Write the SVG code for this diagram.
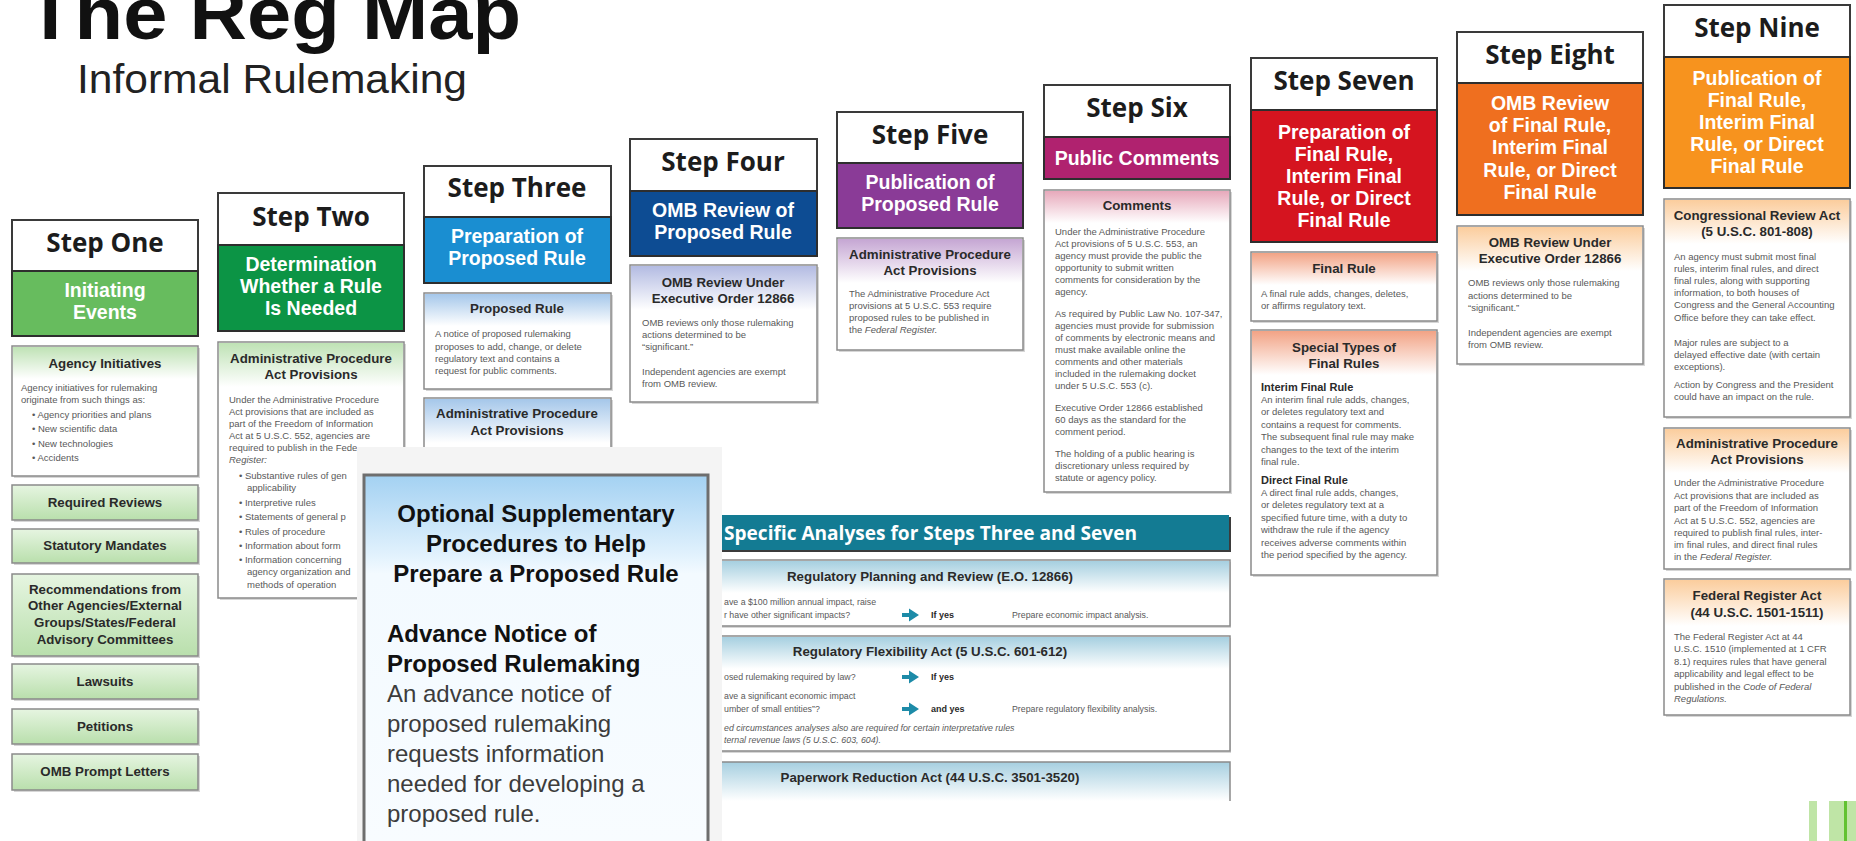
<svg xmlns="http://www.w3.org/2000/svg" width="1856" height="841" viewBox="0 0 1856 841">
<defs>
<style>
.hb{fill:#fff;stroke:#3a3a3a;stroke-width:2}
.pn{stroke:#2e2e2e;stroke-width:2}
.st{font-family:'Open Sans','DejaVu Sans',sans-serif;font-weight:700;font-size:26px;fill:#1c1c1c;text-anchor:middle}
.pt{font-family:'Liberation Sans',Arial,sans-serif;font-weight:700;font-size:19.5px;fill:#fff;text-anchor:middle}
.sb{fill:#fff;stroke:#8a8a8a;stroke-width:1.5}
.btn{fill:url(#gBtn)}
.shd{fill:#d6d6d6}
.bt{font-family:'Liberation Sans',Arial,sans-serif;font-weight:700;font-size:13.3px;fill:#2a2a2a;text-anchor:middle}
.bs{font-family:'Liberation Sans',Arial,sans-serif;font-weight:700;font-size:11px;fill:#2a2a2a}
.bd{font-family:'Liberation Sans',Arial,sans-serif;font-size:9.5px;fill:#595959}
.sd{font-family:'Liberation Sans',Arial,sans-serif;font-size:8.8px;fill:#595959}
.sy{font-family:'Liberation Sans',Arial,sans-serif;font-weight:700;font-size:9px;fill:#2a2a2a}
.it{font-style:italic}
.ov1{font-family:'Liberation Sans',Arial,sans-serif;font-weight:700;font-size:24px;fill:#111}
.ov2{font-family:'Liberation Sans',Arial,sans-serif;font-size:24px;fill:#3c3c3c}
.arr{fill:#1d8ba8}
</style>
<linearGradient id="gG" x1="0" y1="0" x2="0" y2="1"><stop offset="0" stop-color="#bfe2b5"/><stop offset="1" stop-color="#fff"/></linearGradient>
<linearGradient id="gBtn" x1="0" y1="0" x2="0" y2="1"><stop offset="0" stop-color="#e6f5e1"/><stop offset="1" stop-color="#b9dfac"/></linearGradient>
<linearGradient id="gB" x1="0" y1="0" x2="0" y2="1"><stop offset="0" stop-color="#a5c7ea"/><stop offset="1" stop-color="#fff"/></linearGradient>
<linearGradient id="gL" x1="0" y1="0" x2="0" y2="1"><stop offset="0" stop-color="#b3bbe2"/><stop offset="1" stop-color="#fff"/></linearGradient>
<linearGradient id="gP" x1="0" y1="0" x2="0" y2="1"><stop offset="0" stop-color="#c5a6d3"/><stop offset="1" stop-color="#fff"/></linearGradient>
<linearGradient id="gK" x1="0" y1="0" x2="0" y2="1"><stop offset="0" stop-color="#e7a9bb"/><stop offset="1" stop-color="#fff"/></linearGradient>
<linearGradient id="gR" x1="0" y1="0" x2="0" y2="1"><stop offset="0" stop-color="#f2a385"/><stop offset="1" stop-color="#fff"/></linearGradient>
<linearGradient id="gO" x1="0" y1="0" x2="0" y2="1"><stop offset="0" stop-color="#fbcd9d"/><stop offset="1" stop-color="#fff"/></linearGradient>
<linearGradient id="gT" x1="0" y1="0" x2="0" y2="1"><stop offset="0" stop-color="#a6cfe0"/><stop offset="1" stop-color="#fff"/></linearGradient>
<linearGradient id="gOv" gradientUnits="userSpaceOnUse" x1="0" y1="475" x2="0" y2="841"><stop offset="0" stop-color="#a3d1f2"/><stop offset="0.22" stop-color="#e2f2fd"/><stop offset="0.27" stop-color="#f3faff"/><stop offset="1" stop-color="#f8fcff"/></linearGradient>
<path id="ar" d="M0,-2 h7 v-4.5 l10,6.5 l-10,6.5 v-4.5 h-7 z"/>
</defs>
<rect width="1856" height="841" fill="#fff"/>

<g id="title">
<text x="26" y="39" font-family="'Liberation Sans',Arial,sans-serif" font-weight="700" font-size="74" fill="#111" textLength="495" lengthAdjust="spacingAndGlyphs">The Reg Map</text>
<text x="77" y="93" font-family="'Liberation Sans',Arial,sans-serif" font-size="40" fill="#222" textLength="390" lengthAdjust="spacingAndGlyphs">Informal Rulemaking</text>
</g>

<!-- STEP ONE -->
<g id="step1">
<rect class="hb" x="12" y="220" width="186" height="51"/>
<text class="st" x="105" y="252">Step One</text>
<rect class="pn" x="12" y="271" width="186" height="65" fill="#67bc5e"/>
<text class="pt" x="105" y="297">Initiating</text>
<text class="pt" x="105" y="319">Events</text>
</g>
<g id="s1-agency">
<rect class="shd" x="14" y="348" width="186" height="130"/>
<rect class="sb" x="12" y="346" width="186" height="130"/>
<rect x="13" y="347" width="184" height="32" fill="url(#gG)"/>
<text class="bt" x="105" y="368">Agency Initiatives</text>
<text class="bd" x="21" y="391">Agency initiatives for rulemaking</text>
<text class="bd" x="21" y="403">originate from such things as:</text>
<text class="bd" x="32" y="418">• Agency priorities and plans</text>
<text class="bd" x="32" y="432">• New scientific data</text>
<text class="bd" x="32" y="447">• New technologies</text>
<text class="bd" x="32" y="461">• Accidents</text>
</g>
<g id="s1-reviews"><rect class="shd" x="14" y="487" width="186" height="35"/><rect class="sb btn" x="12" y="485" width="186" height="35"/><text class="bt" x="105" y="507">Required Reviews</text></g>
<g id="s1-mandates"><rect class="shd" x="14" y="531" width="186" height="34"/><rect class="sb btn" x="12" y="529" width="186" height="34"/><text class="bt" x="105" y="550">Statutory Mandates</text></g>
<g id="s1-recommend"><rect class="shd" x="14" y="576" width="186" height="82"/><rect class="sb btn" x="12" y="574" width="186" height="82"/>
<text class="bt" x="105" y="594">Recommendations from</text>
<text class="bt" x="105" y="610">Other Agencies/External</text>
<text class="bt" x="105" y="627">Groups/States/Federal</text>
<text class="bt" x="105" y="644">Advisory Committees</text></g>
<g id="s1-lawsuits"><rect class="shd" x="14" y="666" width="186" height="35"/><rect class="sb btn" x="12" y="664" width="186" height="35"/><text class="bt" x="105" y="686">Lawsuits</text></g>
<g id="s1-petitions"><rect class="shd" x="14" y="711" width="186" height="35"/><rect class="sb btn" x="12" y="709" width="186" height="35"/><text class="bt" x="105" y="731">Petitions</text></g>
<g id="s1-prompt"><rect class="shd" x="14" y="756" width="186" height="36"/><rect class="sb btn" x="12" y="754" width="186" height="36"/><text class="bt" x="105" y="776">OMB Prompt Letters</text></g>

<!-- STEP TWO -->
<g id="step2">
<rect class="hb" x="218" y="193" width="186" height="52"/>
<text class="st" x="311" y="226">Step Two</text>
<rect class="pn" x="218" y="245" width="186" height="86" fill="#0c9445"/>
<text class="pt" x="311" y="271">Determination</text>
<text class="pt" x="311" y="293">Whether a Rule</text>
<text class="pt" x="311" y="315">Is Needed</text>
</g>
<g id="s2-apa">
<rect class="shd" x="220" y="344" width="186" height="256"/>
<rect class="sb" x="218" y="342" width="186" height="256"/>
<rect x="219" y="343" width="184" height="44" fill="url(#gG)"/>
<text class="bt" x="311" y="363">Administrative Procedure</text>
<text class="bt" x="311" y="379">Act Provisions</text>
<text class="bd" x="229" y="403">Under the Administrative Procedure</text>
<text class="bd" x="229" y="415">Act provisions that are included as</text>
<text class="bd" x="229" y="427">part of the Freedom of Information</text>
<text class="bd" x="229" y="439">Act at 5 U.S.C. 552, agencies are</text>
<text class="bd" x="229" y="451">required to publish in the Fede</text>
<text class="bd it" x="229" y="463">Register:</text>
<text class="bd" x="239" y="479">• Substantive rules of gen</text>
<text class="bd" x="247" y="491">applicability</text>
<text class="bd" x="239" y="506">• Interpretive rules</text>
<text class="bd" x="239" y="520">• Statements of general p</text>
<text class="bd" x="239" y="535">• Rules of procedure</text>
<text class="bd" x="239" y="549">• Information about form</text>
<text class="bd" x="239" y="563">• Information concerning</text>
<text class="bd" x="247" y="575">agency organization and</text>
<text class="bd" x="247" y="588">methods of operation</text>
</g>

<!-- STEP THREE -->
<g id="step3">
<rect class="hb" x="424" y="166" width="187" height="51"/>
<text class="st" x="517" y="197">Step Three</text>
<rect class="pn" x="424" y="217" width="187" height="66" fill="#1a8ed1"/>
<text class="pt" x="517" y="243">Preparation of</text>
<text class="pt" x="517" y="265">Proposed Rule</text>
</g>
<g id="s3-proposed">
<rect class="shd" x="426" y="295" width="187" height="96"/>
<rect class="sb" x="424" y="293" width="187" height="96"/>
<rect x="425" y="294" width="185" height="32" fill="url(#gB)"/>
<text class="bt" x="517" y="313">Proposed Rule</text>
<text class="bd" x="435" y="337">A notice of proposed rulemaking</text>
<text class="bd" x="435" y="350">proposes to add, change, or delete</text>
<text class="bd" x="435" y="362">regulatory text and contains a</text>
<text class="bd" x="435" y="374">request for public comments.</text>
</g>
<g id="s3-apa">
<rect class="shd" x="426" y="400" width="187" height="80"/>
<rect class="sb" x="424" y="398" width="187" height="80"/>
<rect x="425" y="399" width="185" height="44" fill="url(#gB)"/>
<text class="bt" x="517" y="418">Administrative Procedure</text>
<text class="bt" x="517" y="435">Act Provisions</text>
</g>

<!-- STEP FOUR -->
<g id="step4">
<rect class="hb" x="630" y="139" width="187" height="52"/>
<text class="st" x="723" y="171">Step Four</text>
<rect class="pn" x="630" y="191" width="187" height="65" fill="#0d4c93"/>
<text class="pt" x="723" y="217">OMB Review of</text>
<text class="pt" x="723" y="239">Proposed Rule</text>
</g>
<g id="s4-omb">
<rect class="shd" x="632" y="267" width="187" height="137"/>
<rect class="sb" x="630" y="265" width="187" height="137"/>
<rect x="631" y="266" width="185" height="44" fill="url(#gL)"/>
<text class="bt" x="723" y="287">OMB Review Under</text>
<text class="bt" x="723" y="303">Executive Order 12866</text>
<text class="bd" x="642" y="326">OMB reviews only those rulemaking</text>
<text class="bd" x="642" y="338">actions determined to be</text>
<text class="bd" x="642" y="350">“significant.”</text>
<text class="bd" x="642" y="375">Independent agencies are exempt</text>
<text class="bd" x="642" y="387">from OMB review.</text>
</g>

<!-- STEP FIVE -->
<g id="step5">
<rect class="hb" x="837" y="112" width="186" height="51"/>
<text class="st" x="930" y="144">Step Five</text>
<rect class="pn" x="837" y="163" width="186" height="65" fill="#8a3b97"/>
<text class="pt" x="930" y="189">Publication of</text>
<text class="pt" x="930" y="211">Proposed Rule</text>
</g>
<g id="s5-apa">
<rect class="shd" x="839" y="240" width="186" height="112"/>
<rect class="sb" x="837" y="238" width="186" height="112"/>
<rect x="838" y="239" width="184" height="44" fill="url(#gP)"/>
<text class="bt" x="930" y="259">Administrative Procedure</text>
<text class="bt" x="930" y="275">Act Provisions</text>
<text class="bd" x="849" y="297">The Administrative Procedure Act</text>
<text class="bd" x="849" y="309">provisions at 5 U.S.C. 553 require</text>
<text class="bd" x="849" y="321">proposed rules to be published in</text>
<text class="bd" x="849" y="333">the <tspan class="it">Federal Register.</tspan></text>
</g>

<!-- STEP SIX -->
<g id="step6">
<rect class="hb" x="1044" y="85" width="186" height="52"/>
<text class="st" x="1137" y="117">Step Six</text>
<rect class="pn" x="1044" y="137" width="186" height="42" fill="#b0226f"/>
<text class="pt" x="1137" y="165">Public Comments</text>
</g>
<g id="s6-comments">
<rect class="shd" x="1046" y="192" width="186" height="302"/>
<rect class="sb" x="1044" y="190" width="186" height="302"/>
<rect x="1045" y="191" width="184" height="32" fill="url(#gK)"/>
<text class="bt" x="1137" y="210">Comments</text>
<text class="bd" x="1055" y="235">Under the Administrative Procedure</text>
<text class="bd" x="1055" y="247">Act provisions of 5 U.S.C. 553, an</text>
<text class="bd" x="1055" y="259">agency must provide the public the</text>
<text class="bd" x="1055" y="271">opportunity to submit written</text>
<text class="bd" x="1055" y="283">comments for consideration by the</text>
<text class="bd" x="1055" y="295">agency.</text>
<text class="bd" x="1055" y="317">As required by Public Law No. 107-347,</text>
<text class="bd" x="1055" y="329">agencies must provide for submission</text>
<text class="bd" x="1055" y="341">of comments by electronic means and</text>
<text class="bd" x="1055" y="353">must make available online the</text>
<text class="bd" x="1055" y="365">comments and other materials</text>
<text class="bd" x="1055" y="377">included in the rulemaking docket</text>
<text class="bd" x="1055" y="389">under 5 U.S.C. 553 (c).</text>
<text class="bd" x="1055" y="411">Executive Order 12866 established</text>
<text class="bd" x="1055" y="423">60 days as the standard for the</text>
<text class="bd" x="1055" y="435">comment period.</text>
<text class="bd" x="1055" y="457">The holding of a public hearing is</text>
<text class="bd" x="1055" y="469">discretionary unless required by</text>
<text class="bd" x="1055" y="481">statute or agency policy.</text>
</g>

<!-- STEP SEVEN -->
<g id="step7">
<rect class="hb" x="1251" y="58" width="186" height="52"/>
<text class="st" x="1344" y="90">Step Seven</text>
<rect class="pn" x="1251" y="110" width="186" height="132" fill="#d5141f"/>
<text class="pt" x="1344" y="139">Preparation of</text>
<text class="pt" x="1344" y="161">Final Rule,</text>
<text class="pt" x="1344" y="183">Interim Final</text>
<text class="pt" x="1344" y="205">Rule, or Direct</text>
<text class="pt" x="1344" y="227">Final Rule</text>
</g>
<g id="s7-final">
<rect class="shd" x="1253" y="254" width="186" height="69"/>
<rect class="sb" x="1251" y="252" width="186" height="69"/>
<rect x="1252" y="253" width="184" height="32" fill="url(#gR)"/>
<text class="bt" x="1344" y="273">Final Rule</text>
<text class="bd" x="1261" y="297">A final rule adds, changes, deletes,</text>
<text class="bd" x="1261" y="309">or affirms regulatory text.</text>
</g>
<g id="s7-special">
<rect class="shd" x="1253" y="332" width="186" height="245"/>
<rect class="sb" x="1251" y="330" width="186" height="245"/>
<rect x="1252" y="331" width="184" height="44" fill="url(#gR)"/>
<text class="bt" x="1344" y="352">Special Types of</text>
<text class="bt" x="1344" y="368">Final Rules</text>
<text class="bs" x="1261" y="391">Interim Final Rule</text>
<text class="bd" x="1261" y="403">An interim final rule adds, changes,</text>
<text class="bd" x="1261" y="415">or deletes regulatory text and</text>
<text class="bd" x="1261" y="428">contains a request for comments.</text>
<text class="bd" x="1261" y="440">The subsequent final rule may make</text>
<text class="bd" x="1261" y="453">changes to the text of the interim</text>
<text class="bd" x="1261" y="465">final rule.</text>
<text class="bs" x="1261" y="484">Direct Final Rule</text>
<text class="bd" x="1261" y="496">A direct final rule adds, changes,</text>
<text class="bd" x="1261" y="508">or deletes regulatory text at a</text>
<text class="bd" x="1261" y="521">specified future time, with a duty to</text>
<text class="bd" x="1261" y="533">withdraw the rule if the agency</text>
<text class="bd" x="1261" y="546">receives adverse comments within</text>
<text class="bd" x="1261" y="558">the period specified by the agency.</text>
</g>

<!-- STEP EIGHT -->
<g id="step8">
<rect class="hb" x="1457" y="32" width="186" height="51"/>
<text class="st" x="1550" y="64">Step Eight</text>
<rect class="pn" x="1457" y="83" width="186" height="132" fill="#ef6f1f"/>
<text class="pt" x="1550" y="110">OMB Review</text>
<text class="pt" x="1550" y="132">of Final Rule,</text>
<text class="pt" x="1550" y="154">Interim Final</text>
<text class="pt" x="1550" y="177">Rule, or Direct</text>
<text class="pt" x="1550" y="199">Final Rule</text>
</g>
<g id="s8-omb">
<rect class="shd" x="1459" y="228" width="186" height="138"/>
<rect class="sb" x="1457" y="226" width="186" height="138"/>
<rect x="1458" y="227" width="184" height="44" fill="url(#gO)"/>
<text class="bt" x="1550" y="247">OMB Review Under</text>
<text class="bt" x="1550" y="263">Executive Order 12866</text>
<text class="bd" x="1468" y="286">OMB reviews only those rulemaking</text>
<text class="bd" x="1468" y="299">actions determined to be</text>
<text class="bd" x="1468" y="311">“significant.”</text>
<text class="bd" x="1468" y="336">Independent agencies are exempt</text>
<text class="bd" x="1468" y="348">from OMB review.</text>
</g>

<!-- STEP NINE -->
<g id="step9">
<rect class="hb" x="1664" y="5" width="186" height="52"/>
<text class="st" x="1757" y="37">Step Nine</text>
<rect class="pn" x="1664" y="57" width="186" height="131" fill="#f7931e"/>
<text class="pt" x="1757" y="85">Publication of</text>
<text class="pt" x="1757" y="107">Final Rule,</text>
<text class="pt" x="1757" y="129">Interim Final</text>
<text class="pt" x="1757" y="151">Rule, or Direct</text>
<text class="pt" x="1757" y="173">Final Rule</text>
</g>
<g id="s9-cra">
<rect class="shd" x="1666" y="201" width="186" height="218"/>
<rect class="sb" x="1664" y="199" width="186" height="218"/>
<rect x="1665" y="200" width="184" height="44" fill="url(#gO)"/>
<text class="bt" x="1757" y="220">Congressional Review Act</text>
<text class="bt" x="1757" y="236">(5 U.S.C. 801-808)</text>
<text class="bd" x="1674" y="260">An agency must submit most final</text>
<text class="bd" x="1674" y="272">rules, interim final rules, and direct</text>
<text class="bd" x="1674" y="284">final rules, along with supporting</text>
<text class="bd" x="1674" y="296">information, to both houses of</text>
<text class="bd" x="1674" y="308">Congress and the General Accounting</text>
<text class="bd" x="1674" y="321">Office before they can take effect.</text>
<text class="bd" x="1674" y="346">Major rules are subject to a</text>
<text class="bd" x="1674" y="358">delayed effective date (with certain</text>
<text class="bd" x="1674" y="370">exceptions).</text>
<text class="bd" x="1674" y="388">Action by Congress and the President</text>
<text class="bd" x="1674" y="400">could have an impact on the rule.</text>
</g>
<g id="s9-apa">
<rect class="shd" x="1666" y="430" width="186" height="141"/>
<rect class="sb" x="1664" y="428" width="186" height="141"/>
<rect x="1665" y="429" width="184" height="44" fill="url(#gO)"/>
<text class="bt" x="1757" y="448">Administrative Procedure</text>
<text class="bt" x="1757" y="464">Act Provisions</text>
<text class="bd" x="1674" y="486">Under the Administrative Procedure</text>
<text class="bd" x="1674" y="499">Act provisions that are included as</text>
<text class="bd" x="1674" y="511">part of the Freedom of Information</text>
<text class="bd" x="1674" y="524">Act at 5 U.S.C. 552, agencies are</text>
<text class="bd" x="1674" y="536">required to publish final rules, inter-</text>
<text class="bd" x="1674" y="548">im final rules, and direct final rules</text>
<text class="bd" x="1674" y="560">in the <tspan class="it">Federal Register.</tspan></text>
</g>
<g id="s9-fra">
<rect class="shd" x="1666" y="581" width="186" height="136"/>
<rect class="sb" x="1664" y="579" width="186" height="136"/>
<rect x="1665" y="580" width="184" height="46" fill="url(#gO)"/>
<text class="bt" x="1757" y="600">Federal Register Act</text>
<text class="bt" x="1757" y="617">(44 U.S.C. 1501-1511)</text>
<text class="bd" x="1674" y="640">The Federal Register Act at 44</text>
<text class="bd" x="1674" y="652">U.S.C. 1510 (implemented at 1 CFR</text>
<text class="bd" x="1674" y="665">8.1) requires rules that have general</text>
<text class="bd" x="1674" y="677">applicability and legal effect to be</text>
<text class="bd" x="1674" y="690">published in the <tspan class="it">Code of Federal</tspan></text>
<text class="bd it" x="1674" y="702">Regulations.</text>
</g>

<!-- SPECIFIC ANALYSES -->
<g id="analyses">
<rect x="631" y="517" width="600" height="35" fill="#3b3b3b"/>
<rect x="629" y="515" width="600" height="35" fill="#137b93"/>
<text x="724" y="540" font-family="'Open Sans','DejaVu Sans',sans-serif" font-weight="700" font-size="19" fill="#fff" textLength="413" lengthAdjust="spacingAndGlyphs">Specific Analyses for Steps Three and Seven</text>
</g>
<g id="a-planning">
<rect class="shd" x="631" y="562" width="600" height="66"/>
<rect class="sb" x="629" y="560" width="601" height="66"/>
<rect x="630" y="561" width="599" height="32" fill="url(#gT)"/>
<text class="bt" x="930" y="581">Regulatory Planning and Review (E.O. 12866)</text>
<text class="sd" x="724" y="605">ave a $100 million annual impact, raise</text>
<text class="sd" x="724" y="618">r have other significant impacts?</text>
<use href="#ar" class="arr" x="902" y="615"/>
<text class="sy" x="931" y="618">If yes</text>
<text class="sd" x="1012" y="618">Prepare economic impact analysis.</text>
</g>
<g id="a-flex">
<rect class="shd" x="631" y="638" width="600" height="115"/>
<rect class="sb" x="629" y="636" width="601" height="115"/>
<rect x="630" y="637" width="599" height="32" fill="url(#gT)"/>
<text class="bt" x="930" y="656">Regulatory Flexibility Act (5 U.S.C. 601-612)</text>
<text class="sd" x="724" y="680">osed rulemaking required by law?</text>
<use href="#ar" class="arr" x="902" y="677"/>
<text class="sy" x="931" y="680">If yes</text>
<text class="sd" x="724" y="699">ave a significant economic impact</text>
<text class="sd" x="724" y="712">umber of small entities”?</text>
<use href="#ar" class="arr" x="902" y="709"/>
<text class="sy" x="931" y="712">and yes</text>
<text class="sd" x="1012" y="712">Prepare regulatory flexibility analysis.</text>
<text class="sd it" x="724" y="731">ed circumstances analyses also are required for certain interpretative rules</text>
<text class="sd it" x="724" y="743">ternal revenue laws (5 U.S.C. 603, 604).</text>
</g>
<g id="a-paperwork">
<path d="M629,801 V762 H1230 V801" fill="url(#gT)" stroke="#8a8a8a" stroke-width="1.5"/>
<text class="bt" x="930" y="782">Paperwork Reduction Act (44 U.S.C. 3501-3520)</text>
</g>

<!-- OVERLAY POPUP -->
<g id="popup">
<rect x="357" y="447" width="365" height="394" fill="#f4f4f4"/>
<rect x="364" y="475" width="344" height="380" fill="url(#gOv)" stroke="#6e6e6e" stroke-width="3"/>
<text class="ov1" x="536" y="522" text-anchor="middle">Optional Supplementary</text>
<text class="ov1" x="536" y="552" text-anchor="middle">Procedures to Help</text>
<text class="ov1" x="536" y="582" text-anchor="middle">Prepare a Proposed Rule</text>
<text class="ov1" x="387" y="642">Advance Notice of</text>
<text class="ov1" x="387" y="672">Proposed Rulemaking</text>
<text class="ov2" x="387" y="702">An advance notice of</text>
<text class="ov2" x="387" y="732">proposed rulemaking</text>
<text class="ov2" x="387" y="762">requests information</text>
<text class="ov2" x="387" y="792">needed for developing a</text>
<text class="ov2" x="387" y="822">proposed rule.</text>
</g>

<g id="corner">
<rect x="1809" y="801" width="8" height="40" fill="#bfe5a6"/>
<rect x="1829" y="801" width="27" height="40" fill="#bfe5a6"/>
<rect x="1844" y="801" width="3" height="40" fill="#62c232"/>
</g>
</svg>
